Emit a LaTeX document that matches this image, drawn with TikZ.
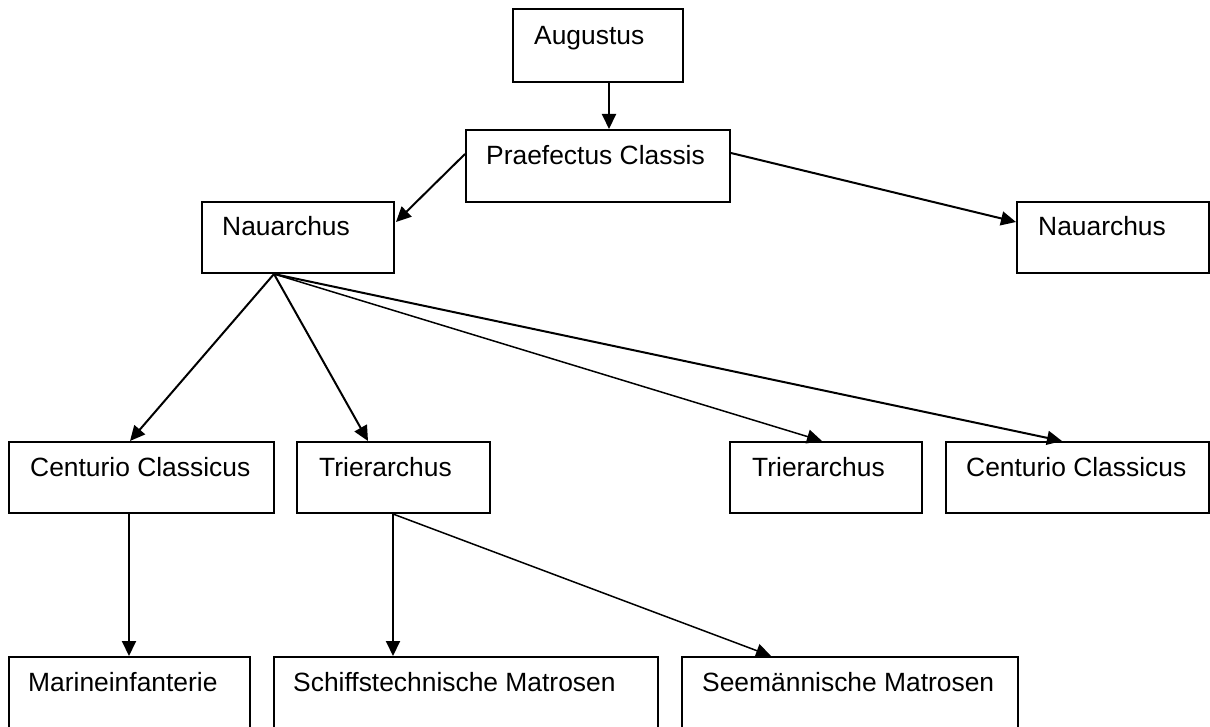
\documentclass[tikz,border=0pt]{standalone}
\usepackage{fontspec}
\setmainfont{Liberation Sans}
\usetikzlibrary{calc,arrows.meta}
\tikzset{
  box/.style={draw=black, line width=2pt, rectangle, inner sep=0pt, fill=white},
  lbl/.style={anchor=base west, inner sep=0pt, font=\fontsize{26.4}{30}\selectfont},
  conn/.style={draw=black, line width=2pt, -{Triangle[length=15pt,width=14pt]}},
  thin/.style={line width=1.5pt}
}
\begin{document}
\begin{tikzpicture}[x=1pt,y=-1pt]
\clip (0,0) rectangle (1210,727);
\fill[white] (0,0) rectangle (1210,727);
% boxes
\node[box, minimum width=170pt, minimum height=73pt] (aug) at (598,45.5) {};
\node[box, minimum width=264pt, minimum height=72pt] (pra) at (598,166) {};
\node[box, minimum width=192pt, minimum height=71pt] (nl) at (298,237.5) {};
\node[box, minimum width=192pt, minimum height=71pt] (nr) at (1113,237.5) {};
\node[box, minimum width=265pt, minimum height=71pt] (cl) at (141.5,477.5) {};
\node[box, minimum width=193pt, minimum height=71pt] (tl) at (393.5,477.5) {};
\node[box, minimum width=192pt, minimum height=71pt] (tr) at (826,477.5) {};
\node[box, minimum width=263pt, minimum height=71pt] (cr) at (1077.5,477.5) {};
\node[box, minimum width=241pt, minimum height=88pt] (mi) at (129.5,701) {};
\node[box, minimum width=384pt, minimum height=88pt] (sm) at (466,701) {};
\node[box, minimum width=336pt, minimum height=88pt] (se) at (850,701) {};
% labels
\node[lbl] (aug-t) at ($(aug.north west)+(22,37)$) {Augustus};
\node[lbl] (pra-t) at ($(pra.north west)+(21,36)$) {Praefectus Classis};
\node[lbl] (nl-t) at ($(nl.north west)+(21,35)$) {Nauarchus};
\node[lbl] (nr-t) at ($(nr.north west)+(22,35)$) {Nauarchus};
\node[lbl] (cl-t) at ($(cl.north west)+(22,35)$) {Centurio Classicus};
\node[lbl] (tl-t) at ($(tl.north west)+(23,35)$) {Trierarchus};
\node[lbl] (tr-t) at ($(tr.north west)+(23,35)$) {Trierarchus};
\node[lbl] (cr-t) at ($(cr.north west)+(21,35)$) {Centurio Classicus};
\node[lbl] (mi-t) at ($(mi.north west)+(20,35)$) {Marineinfanterie};
\node[lbl] (sm-t) at ($(sm.north west)+(20,35)$) {Schiffstechnische Matrosen};
\node[lbl] (se-t) at ($(se.north west)+(21,35)$) {Seemännische Matrosen};
% connectors
\draw[conn] ($(aug.south west)+(97,0)$) -- ($(pra.north west)+(144,0)$);
\draw[conn] ($(pra.north west)+(0,25)$) -- ($(nl.north east)+(1,21)$);
\draw[conn] ($(pra.north east)+(0,24)$) -- ($(nr.north west)+(0,21)$);
\draw[conn] ($(nl.south west)+(73,0)$) -- ($(cl.north west)+(122,0)$);
\draw[conn] ($(nl.south west)+(73,0)$) -- ($(tl.north west)+(72,0)$);
\draw[conn,thin] ($(nl.south west)+(73,0)$) -- ($(tr.north west)+(93,0)$);
\draw[conn] ($(nl.south west)+(73,0)$) -- ($(cr.north west)+(117,0)$);
\draw[conn] ($(cl.south west)+(121,0)$) -- ($(mi.north west)+(121,0)$);
\draw[conn] ($(tl.south west)+(97,0)$) -- ($(sm.north west)+(120,0)$);
\draw[conn,thin] ($(tl.south west)+(97,0)$) -- ($(se.north west)+(90,0)$);
\end{tikzpicture}
\end{document}
